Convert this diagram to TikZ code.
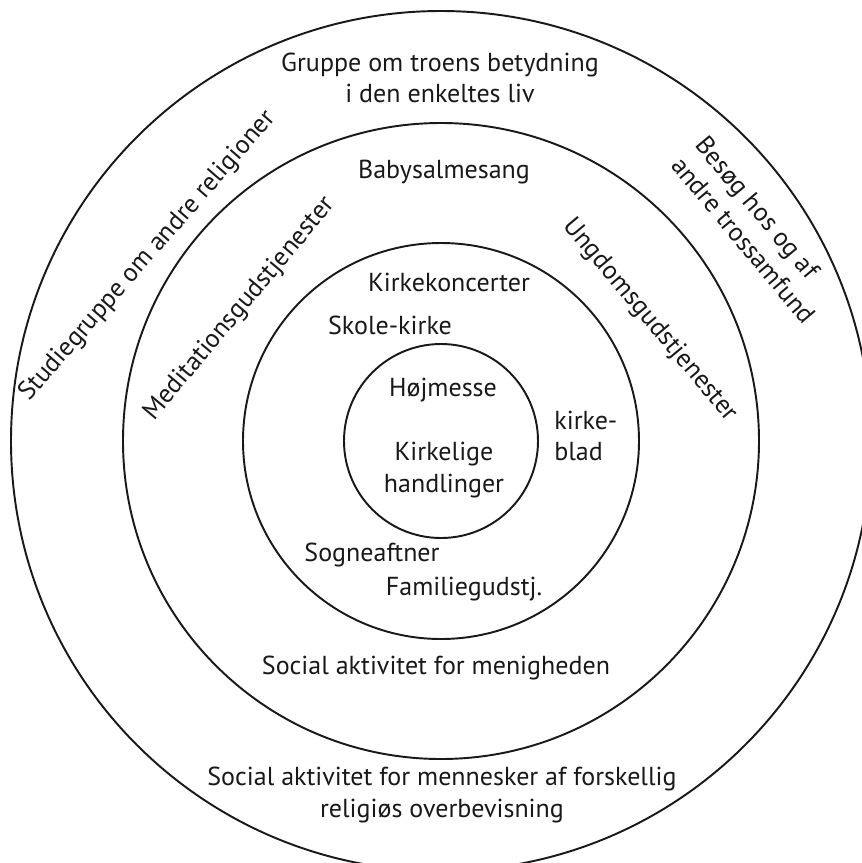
\documentclass[tikz,border=0pt]{standalone}
\usepackage{fontspec}
\setmainfont{PT Sans}
\begin{document}
\begin{tikzpicture}[x=0.02cm, y=-0.02cm]
    % Define styles
    \tikzset{
        ring/.style={line width=1.1pt, black!90},
        activity/.style={font=\fontsize{14.8}{17.9}\selectfont, inner sep=0pt, align=center, text=black!90}
    }

    % Fix the page size
    \useasboundingbox (0,0) rectangle (862,863);
    \clip (0,0) rectangle (862,863);

    % Draw the four rings
    \coordinate (centre) at (441,441);
    \foreach \r in {430,318,198,97} {
        \draw[ring] (centre) circle[radius=\r];
    }

    % Outer ring
    \node[activity] (gruppe) at (440,78) {Gruppe om troens betydning\\i den enkeltes liv};
    \node[activity, rotate=49] (studie) at (148,256) {Studiegruppe om andre religioner};
    \node[activity, rotate=-50, align=left] (besoeg) at (756,230) {Besøg hos og af\\andre trossamfund};
    \node[activity] (socialalle) at (442,795) {Social aktivitet for mennesker af forskellig\\religiøs overbevisning};

    % Second ring
    \node[activity] (baby) at (444,172) {Babysalmesang};
    \node[activity, rotate=50] (meditation) at (240,309) {Meditationsgudstjenester};
    \node[activity, rotate=-50] (ungdom) at (650,320) {Ungdomsgudstjenester};
    \node[activity] (socialmenighed) at (436,668) {Social aktivitet for menigheden};

    % Third ring
    \node[activity] (koncert) at (449,282) {Kirkekoncerter};
    \node[activity] (skole) at (390,325) {Skole-kirke};
    \node[activity, align=left, anchor=west] (kirkeblad) at (554,436) {kirke-\\blad};
    \node[activity] (sogne) at (372,555) {Sogneaftner};
    \node[activity] (familie) at (464,589) {Familiegudstj.};

    % Centre
    \node[activity] (hoejmesse) at (443,390) {Højmesse};
    \node[activity] (handlinger) at (444,470) {Kirkelige\\handlinger};
\end{tikzpicture}
\end{document}
